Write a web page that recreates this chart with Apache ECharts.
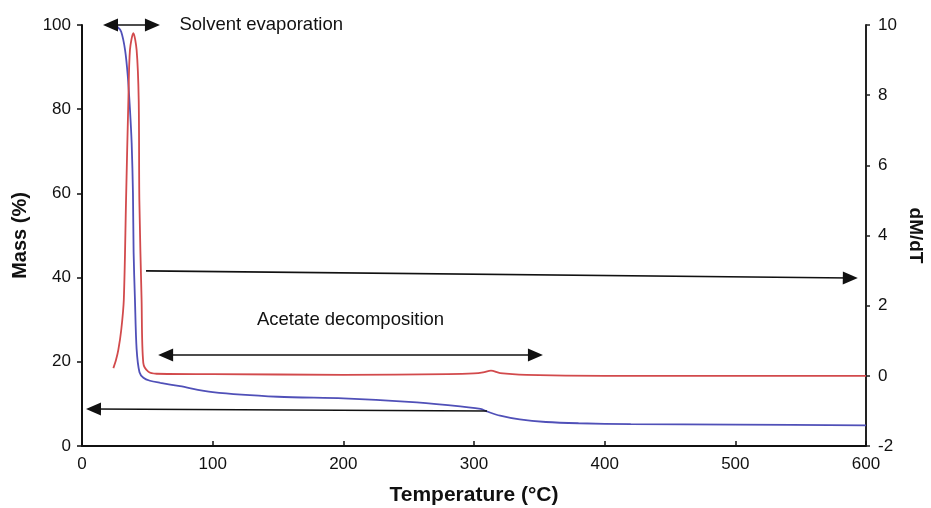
<!DOCTYPE html>
<html>
<head>
    <meta charset="UTF-8">
    <title>TGA</title>
    <script src="https://cdn.jsdelivr.net/npm/echarts@6/dist/echarts.min.js"></script>
    <style>
        html, body { margin: 0; padding: 0; background: #fff; }
        #main { width: 931px; height: 508px; }
    </style>
</head>
<body>
<div id="main"></div>
<script>
    // mass curve (left axis)
    var massTemp = [23.7, 27, 30, 33, 35, 36.7, 38, 39, 39.5, 40.5, 41.8, 44, 47, 52, 60, 75, 100, 150, 200, 250, 280, 305, 310, 320, 335, 355, 380, 420, 500, 600];
    var massVal  = [100, 99.6, 98.4, 94, 88, 80, 72, 60, 46, 35, 23, 17.5, 16.2, 15.5, 15.0, 14.2, 12.8, 11.7, 11.3, 10.5, 9.7, 8.8, 8.2, 7.2, 6.3, 5.7, 5.4, 5.2, 5.1, 4.9];

    // dM/dT curve (right axis)
    var dmTemp = [24, 26, 27.8, 30, 32, 33.7, 35.5, 36.7, 39.3, 41.8, 43.4, 43.9, 45.6, 46.9, 50.7, 57, 100, 200, 280, 300, 307, 313, 320, 340, 400, 600];
    var dmVal  = [0.22, 0.45, 0.74, 1.3, 2.17, 5.0, 7.87, 9.29, 9.77, 9.29, 7.87, 5.0, 2.17, 0.37, 0.12, 0.06, 0.05, 0.03, 0.05, 0.07, 0.1, 0.15, 0.08, 0.03, 0.0, 0.0];

    // annotation arrows, [temp, mass]
    var solventArrow = [[21.8, 100], [53.9, 100]];
    var rightArrow   = [[49, 41.6], [588, 39.9]];
    var leftArrow    = [[310, 8.3], [8.8, 8.8]];
    var acetateArrow = [[64, 21.6], [347, 21.6]];

    function zip(a, b) {
        return a.map(function (v, i) { return [v, b[i]]; });
    }

    var font = '"Liberation Sans", Arial, sans-serif';
    var chart = echarts.init(document.getElementById('main'));

    var arrowStyle = { color: '#111', width: 1.6, type: 'solid' };
    var noteText = { fontFamily: font, fontSize: 18.5, color: '#111' };

    var option = {
        backgroundColor: '#fff',
        animation: false,
        grid: { left: 82, right: 65, top: 25, bottom: 62, outerBoundsMode: 'none' },
        xAxis: {
            type: 'value',
            min: 0, max: 600, interval: 100,
            name: 'Temperature (°C)',
            nameLocation: 'middle',
            nameGap: 39,
            nameTextStyle: { fontFamily: font, fontSize: 21, fontWeight: 'bold', color: '#111' },
            axisLine: { lineStyle: { color: '#111', width: 2 } },
            axisTick: { inside: true, length: 5, lineStyle: { color: '#111', width: 1.5 } },
            axisLabel: { fontFamily: font, fontSize: 17, color: '#111', margin: 10 },
            splitLine: { show: false }
        },
        yAxis: [{
            type: 'value',
            min: 0, max: 100, interval: 20,
            name: 'Mass (%)',
            nameLocation: 'middle',
            nameGap: 52,
            nameTextStyle: { fontFamily: font, fontSize: 20, fontWeight: 'bold', color: '#111' },
            axisLine: { show: true, lineStyle: { color: '#111', width: 2 } },
            axisTick: { show: true, length: 5, lineStyle: { color: '#111', width: 1.5 } },
            axisLabel: { fontFamily: font, fontSize: 17, color: '#111', margin: 11 },
            splitLine: { show: false }
        }, {
            type: 'value',
            position: 'right',
            min: -2, max: 10, interval: 2,
            name: 'dM/dT',
            nameLocation: 'middle',
            nameRotate: -90,
            nameGap: 40,
            nameMoveOverlap: false,
            nameTextStyle: { fontFamily: font, fontSize: 19, fontWeight: 'bold', color: '#111' },
            axisLine: { show: true, lineStyle: { color: '#222', width: 2 } },
            axisTick: { show: true, length: 4, lineStyle: { color: '#222', width: 1.5 } },
            axisLabel: { fontFamily: font, fontSize: 17, color: '#111', margin: 12 },
            splitLine: { show: false }
        }],
        series: [{
            name: 'Mass',
            type: 'line',
            yAxisIndex: 0,
            data: zip(massTemp, massVal),
            smooth: 0.3,
            showSymbol: false,
            clip: false,
            lineStyle: { color: '#5050b8', width: 1.8 },
            markLine: {
                silent: true,
                symbol: ['triangle', 'triangle'],
                symbolSize: [13, 15],
                lineStyle: arrowStyle,
                label: { show: false },
                data: [
                    [
                        { coord: solventArrow[0], symbol: 'triangle' },
                        { coord: solventArrow[1], symbol: 'triangle',
                          label: Object.assign({ show: true, position: 'end', distance: 27, formatter: 'Solvent evaporation' }, noteText) }
                    ],
                    [
                        { coord: rightArrow[0], symbol: 'none' },
                        { coord: rightArrow[1], symbol: 'triangle' }
                    ],
                    [
                        { coord: leftArrow[0], symbol: 'none' },
                        { coord: leftArrow[1], symbol: 'triangle' }
                    ],
                    [
                        { coord: acetateArrow[0], symbol: 'triangle',
                          label: Object.assign({ show: true, position: 'insideMiddleTop', distance: 26, formatter: 'Acetate decomposition' }, noteText) },
                        { coord: acetateArrow[1], symbol: 'triangle' }
                    ]
                ]
            }
        }, {
            name: 'dM/dT',
            type: 'line',
            yAxisIndex: 1,
            data: zip(dmTemp, dmVal),
            smooth: 0.3,
            showSymbol: false,
            lineStyle: { color: '#d24a4c', width: 1.8 }
        }]
    };

    chart.setOption(option);
</script>
</body>
</html>
